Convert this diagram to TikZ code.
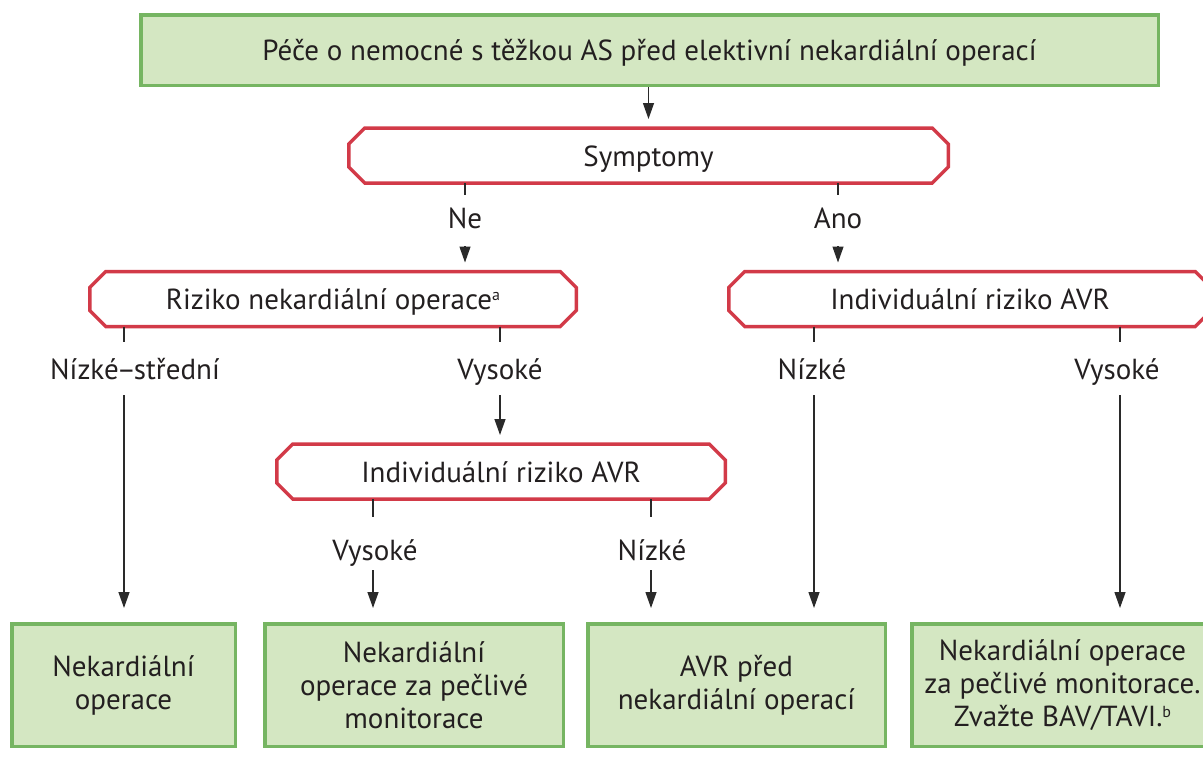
\documentclass[tikz,border=0pt]{standalone}
\usepackage{fontspec}
\setmainfont{PT Sans}
\usetikzlibrary{arrows.meta}
\definecolor{boxgreen}{HTML}{D4E7C2}
\definecolor{edgegreen}{HTML}{76B562}
\definecolor{edgered}{HTML}{D23A48}
\definecolor{ink}{HTML}{231F20}
\definecolor{wire}{HTML}{2A2A2A}
\newcommand{\supmark}[1]{{\fontsize{16}{16}\selectfont\raisebox{9pt}{#1}}}
% octagonal outline around a decision node
\newcommand{\octoframe}[1]{%
  \draw[redline] ([xshift=16pt]#1.north west) -- ([xshift=-16pt]#1.north east)
    -- ([yshift=-16pt]#1.north east) -- ([yshift=16pt]#1.south east)
    -- ([xshift=-16pt]#1.south east) -- ([xshift=16pt]#1.south west)
    -- ([yshift=16pt]#1.south west) -- ([yshift=-16pt]#1.north west) -- cycle;}

\begin{document}
\begin{tikzpicture}[x=1pt,y=-1pt,
  every node/.style={text=ink, font=\fontsize{29}{33}\selectfont},
  greenbox/.style={draw=edgegreen, fill=boxgreen, line width=3.5pt,
    rectangle, inner sep=0pt, align=center, minimum height=122.5pt},
  redbox/.style={rectangle, inner sep=0pt, outer sep=0pt, minimum height=55pt,
    text height=21pt, text depth=0pt},
  redline/.style={draw=edgered, line width=3.5pt, fill=white},
  lbl/.style={anchor=base, inner sep=0pt},
  wireline/.style={draw=wire, line width=1.3pt},
  toRed/.style={wireline, -{Triangle[width=11pt,length=16pt]}, shorten >=9pt},
  toGreen/.style={wireline, -{Triangle[width=11pt,length=16pt]}, shorten >=14pt}]

\useasboundingbox (0,0) rectangle (1203,769);
\clip (0,0) rectangle (1203,769);

% boxes
\node[greenbox, minimum width=1017.5pt, minimum height=70.5pt,
  text height=21pt, text depth=0pt] (top) at (649.5,50)
  {Péče o nemocné s těžkou AS před elektivní nekardiální operací};

\path (648.5,155.5) node[redbox, minimum width=599.5pt] (sym) {};
\path (333,299) node[redbox, minimum width=486.5pt] (riz) {};
\path (970,299) node[redbox, minimum width=482.5pt] (indR) {};
\path (501,471.5) node[redbox, minimum width=448.5pt] (indM) {};
\octoframe{sym}
\octoframe{riz}
\octoframe{indR}
\octoframe{indM}
\node[redbox] at (sym) {Symptomy};
\node[redbox] at (riz) {Riziko nekardiální operace\supmark{a}};
\node[redbox] at (indR) {Individuální riziko AVR};
\node[redbox] at (indM) {Individuální riziko AVR};

\node[greenbox, minimum width=223.5pt] (b1) at (123.5,685) {Nekardiální\\operace};
\node[greenbox, minimum width=298.5pt] (b2) at (414,685)
  {Nekardiální\\operace za pečlivé\\monitorace};
\node[greenbox, minimum width=297.5pt] (b3) at (736.5,685)
  {AVR před\\nekardiální operací};
\node[greenbox, minimum width=301.5pt] (b4) at (1062.5,685)
  {Nekardiální operace\\za pečlivé monitorace.\\Zvažte BAV/TAVI.\supmark{b}};

% branch labels
\node[lbl] (ne)    at (465,228) {Ne};
\node[lbl] (ano)   at (838,228) {Ano};
\node[lbl] (lmid)  at (135,379) {Nízké\kern-2pt–\kern-2pt střední};
\node[lbl] (lhigh) at (500,379) {Vysoké};
\node[lbl] (rlow)  at (812,379) {Nízké};
\node[lbl] (rhigh) at (1117,379) {Vysoké};
\node[lbl] (mhigh) at (375,560) {Vysoké};
\node[lbl] (mlow)  at (652,560) {Nízké};

% tick ends above each label and line starts below it
\coordinate (neT) at (465,195);   \coordinate (neS) at (465,246);
\coordinate (anoT) at (838,195);  \coordinate (anoS) at (838,246);
\coordinate (lmidT) at (124,342); \coordinate (lmidS) at (124,395);
\coordinate (lhighT) at (500,342);\coordinate (lhighS) at (500,395);
\coordinate (rlowT) at (814,342); \coordinate (rlowS) at (814,395);
\coordinate (rhighT) at (1120,342);\coordinate (rhighS) at (1120,395);
\coordinate (mhighT) at (373,517);\coordinate (mhighS) at (373,570);
\coordinate (mlowT) at (651,517); \coordinate (mlowS) at (651,570);

% connectors
\draw[toRed] (top.south -| sym) -- (sym.north);

\draw[wireline] (sym.south -| neT) -- (neT);
\draw[wireline] (sym.south -| anoT) -- (anoT);
\draw[toRed] (neS) -- (riz.north -| neS);
\draw[toRed] (anoS) -- (indR.north -| anoS);

\draw[wireline] (riz.south -| lmidT) -- (lmidT);
\draw[wireline] (riz.south -| lhighT) -- (lhighT);
\draw[wireline] (indR.south -| rlowT) -- (rlowT);
\draw[wireline] (indR.south -| rhighT) -- (rhighT);
\draw[toGreen] (lmidS) -- (b1.north -| lmidS);
\draw[toRed] (lhighS) -- (indM.north -| lhighS);
\draw[toGreen] (rlowS) -- (b3.north -| rlowS);
\draw[toGreen] (rhighS) -- (b4.north -| rhighS);

\draw[wireline] (indM.south -| mhighT) -- (mhighT);
\draw[wireline] (indM.south -| mlowT) -- (mlowT);
\draw[toGreen] (mhighS) -- (b2.north -| mhighS);
\draw[toGreen] (mlowS) -- (b3.north -| mlowS);
\end{tikzpicture}
\end{document}
